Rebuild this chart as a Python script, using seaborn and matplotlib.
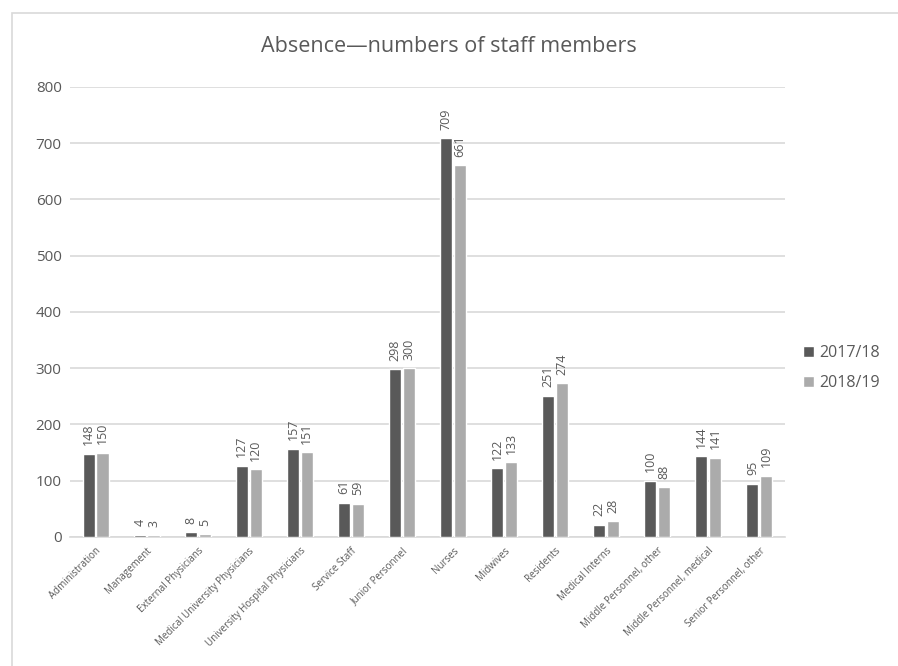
import matplotlib
matplotlib.use("Agg")
import matplotlib.pyplot as plt
import seaborn as sns
import pandas as pd
from matplotlib.patches import Rectangle

categories = ["Administration", "Management", "External Physicians",
              "Medical University Physicians", "University Hospital Physicians",
              "Service Staff", "Junior Personnel", "Nurses", "Midwives", "Residents",
              "Medical Interns", "Middle Personnel, other", "Middle Personnel, medical",
              "Senior Personnel, other"]
values_2017 = [148, 4, 8, 127, 157, 61, 298, 709, 122, 251, 22, 100, 144, 95]
values_2018 = [150, 3, 5, 120, 151, 59, 300, 661, 133, 274, 28, 88, 141, 109]
series = ["2017/18", "2018/19"]
yticks = [0, 100, 200, 300, 400, 500, 600, 700, 800]

df = pd.DataFrame({
    "Category": categories * 2,
    "Value": values_2017 + values_2018,
    "Year": [series[0]] * len(categories) + [series[1]] * len(categories),
})

sns.set_theme(style="white")
plt.rcParams['font.family'] = ['Open Sans', 'DejaVu Sans']
text_color = "#595959"

fig = plt.figure(figsize=(8.98, 6.66), dpi=100)
ax = fig.add_axes([0.078, 0.1937, 0.796, 0.6757])

sns.barplot(data=df, x="Category", y="Value", hue="Year", order=categories,
            hue_order=series, palette=["#595959", "#ababab"], width=0.54,
            gap=0.12, ax=ax, legend=True, saturation=1)

for p in ax.patches:
    p.set_zorder(3)

ax.set_ylim(0, 800)
ax.set_xlim(-0.5, len(categories) - 0.5)
ax.set_yticks(yticks)
ax.set_yticklabels([str(t) for t in yticks], fontsize=11, color=text_color)
ax.yaxis.grid(True, color="#d9d9d9", linewidth=1.2)
ax.set_axisbelow(True)
for s in ["top", "right", "left"]:
    ax.spines[s].set_visible(False)
ax.spines["bottom"].set_color("#d9d9d9")
ax.spines["bottom"].set_linewidth(1.2)
ax.spines["bottom"].set_zorder(2)
ax.tick_params(axis="both", length=0, pad=6)
ax.set_xlabel("")
ax.set_ylabel("")
ax.set_xticks(range(len(categories)))
ax.set_xticklabels(categories, rotation=45, ha="right", rotation_mode="anchor",
                   fontsize=7, color=text_color)

for cont in ax.containers:
    ax.bar_label(cont, labels=[f"{int(v.get_height())}" for v in cont],
                 rotation=90, padding=6, fontsize=9, color=text_color)

leg = ax.legend(loc="center left", bbox_to_anchor=(1.005, 0.375), frameon=False,
                fontsize=11.5, handlelength=0.7, handleheight=0.7, handletextpad=0.3,
                labelspacing=0.85)
for t in leg.get_texts():
    t.set_color(text_color)

fig.text(0.5, 0.93, "Absence\u2014numbers of staff members", ha="center",
         va="center", fontsize=15.5, color=text_color)

border = Rectangle((12 / 898, -0.05), 1.0, 1 - 13 / 666 + 0.05, transform=fig.transFigure,
                   fill=False, edgecolor="#d9d9d9", linewidth=1.2)
fig.patches.append(border)

fig.savefig("out.png", dpi=100)
